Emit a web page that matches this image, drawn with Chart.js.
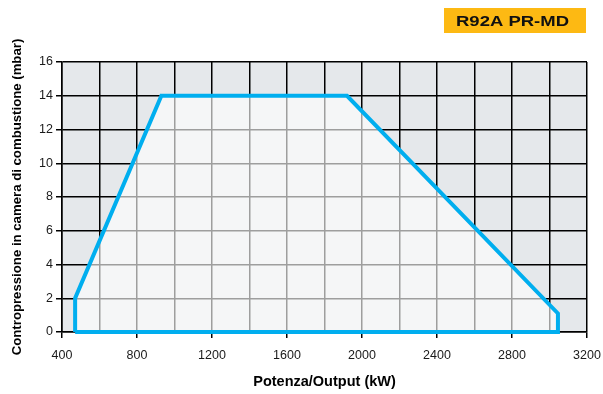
<!DOCTYPE html>
<html>
<head>
<meta charset="utf-8">
<script src="https://cdn.jsdelivr.net/npm/chart.js@4.4.1/dist/chart.umd.min.js"></script>
<style>
  html, body { margin: 0; padding: 0; background: #fff; }
  #wrap { width: 603px; height: 394px; position: relative; }
</style>
</head>
<body>
<div id="wrap"><canvas id="chart"></canvas></div>
<script>
// working field of the burner (kW, mbar), traced clockwise
const outputKW = [470, 470, 930, 1920, 3045, 3045, 470];
const backPressure = [0, 2, 14, 14, 1.1, 0, 0];
const xTicks = [400, 800, 1200, 1600, 2000, 2400, 2800, 3200];
const yTicks = [0, 2, 4, 6, 8, 10, 12, 14, 16];
const modelName = "R92A PR-MD";

const outline = outputKW.map((x, i) => ({ x: x, y: backPressure[i] }));
// same field without the closing point, used for the light fill
const area = outline.slice(0, -1);

const plotBackground = {
  id: "plotBackground",
  beforeDraw(chart) {
    const { ctx, chartArea: a } = chart;
    ctx.save();
    ctx.fillStyle = "#e5e8eb";
    ctx.fillRect(a.left, a.top, a.right - a.left, a.bottom - a.top);
    ctx.restore();
  }
};

const modelBadge = {
  id: "modelBadge",
  afterDraw(chart) {
    const ctx = chart.ctx;
    ctx.save();
    ctx.fillStyle = "#fdb913";
    ctx.fillRect(444, 8, 142, 25);
    ctx.font = "bold 15px 'Liberation Sans', Arial, sans-serif";
    ctx.fillStyle = "#111";
    ctx.textBaseline = "middle";
    ctx.textAlign = "center";
    const w = ctx.measureText(modelName).width;
    ctx.translate(512.5, 21.5);
    ctx.scale(113 / w, 1);
    ctx.fillText(modelName, 0, 0);
    ctx.restore();
  }
};

new Chart(document.getElementById("chart"), {
  type: "line",
  data: {
    datasets: [{
      data: outline,
      borderColor: "#00aeef",
      borderWidth: 4,
      borderJoinStyle: "miter",
      fill: false,
      pointRadius: 0,
      tension: 0,
      clip: false,
      order: 0
    }, {
      data: area,
      borderWidth: 0,
      borderColor: "rgba(0,0,0,0)",
      backgroundColor: "rgba(255,255,255,0.62)",
      fill: "origin",
      pointRadius: 0,
      tension: 0,
      order: 1
    }]
  },
  options: {
    responsive: true,
    maintainAspectRatio: false,
    animation: false,
    layout: { padding: { left: 0, right: 16, top: 62, bottom: 0 } },
    plugins: {
      legend: { display: false },
      tooltip: { enabled: false }
    },
    scales: {
      x: {
        type: "linear",
        min: 400,
        max: 3200,
        afterFit(s) {
          s.height = 62;
          s.paddingLeft = 0;
          s.paddingRight = 0;
        },
        ticks: {
          stepSize: 200,
          autoSkip: false,
          maxRotation: 0,
          padding: 10,
          color: "#1a1a1a",
          font: { size: 12.5, family: "'Liberation Sans', Arial, sans-serif" },
          callback: v => xTicks.includes(v) ? String(v) : ""
        },
        grid: {
          color: "#000",
          lineWidth: 1.5,
          tickLength: 6,
          tickColor: c => xTicks.includes(c.tick.value) ? "#000" : "rgba(0,0,0,0)"
        },
        border: { color: "#000", width: 1.5 },
        title: {
          display: true,
          text: "Potenza/Output (kW)",
          color: "#000",
          padding: { top: 0, bottom: 3 },
          font: { size: 14.5, weight: "bold", family: "'Liberation Sans', Arial, sans-serif" }
        }
      },
      y: {
        min: 0,
        max: 16,
        afterFit(s) {
          s.width = 62;
          s.paddingTop = 0;
          s.paddingBottom = 0;
        },
        afterBuildTicks(s) { s.ticks = yTicks.map(v => ({ value: v })); },
        ticks: {
          padding: 3,
          color: "#1a1a1a",
          font: { size: 12.5, family: "'Liberation Sans', Arial, sans-serif" }
        },
        grid: { color: "#000", lineWidth: 1.5, tickLength: 6 },
        border: { color: "#000", width: 1.5 },
        title: {
          display: true,
          text: "Contropressione in camera di combustione (mbar)",
          color: "#000",
          padding: { top: 9, bottom: 0 },
          font: { size: 13.2, weight: "bold", family: "'Liberation Sans', Arial, sans-serif" }
        }
      }
    }
  },
  plugins: [plotBackground, modelBadge]
});
</script>
</body>
</html>
